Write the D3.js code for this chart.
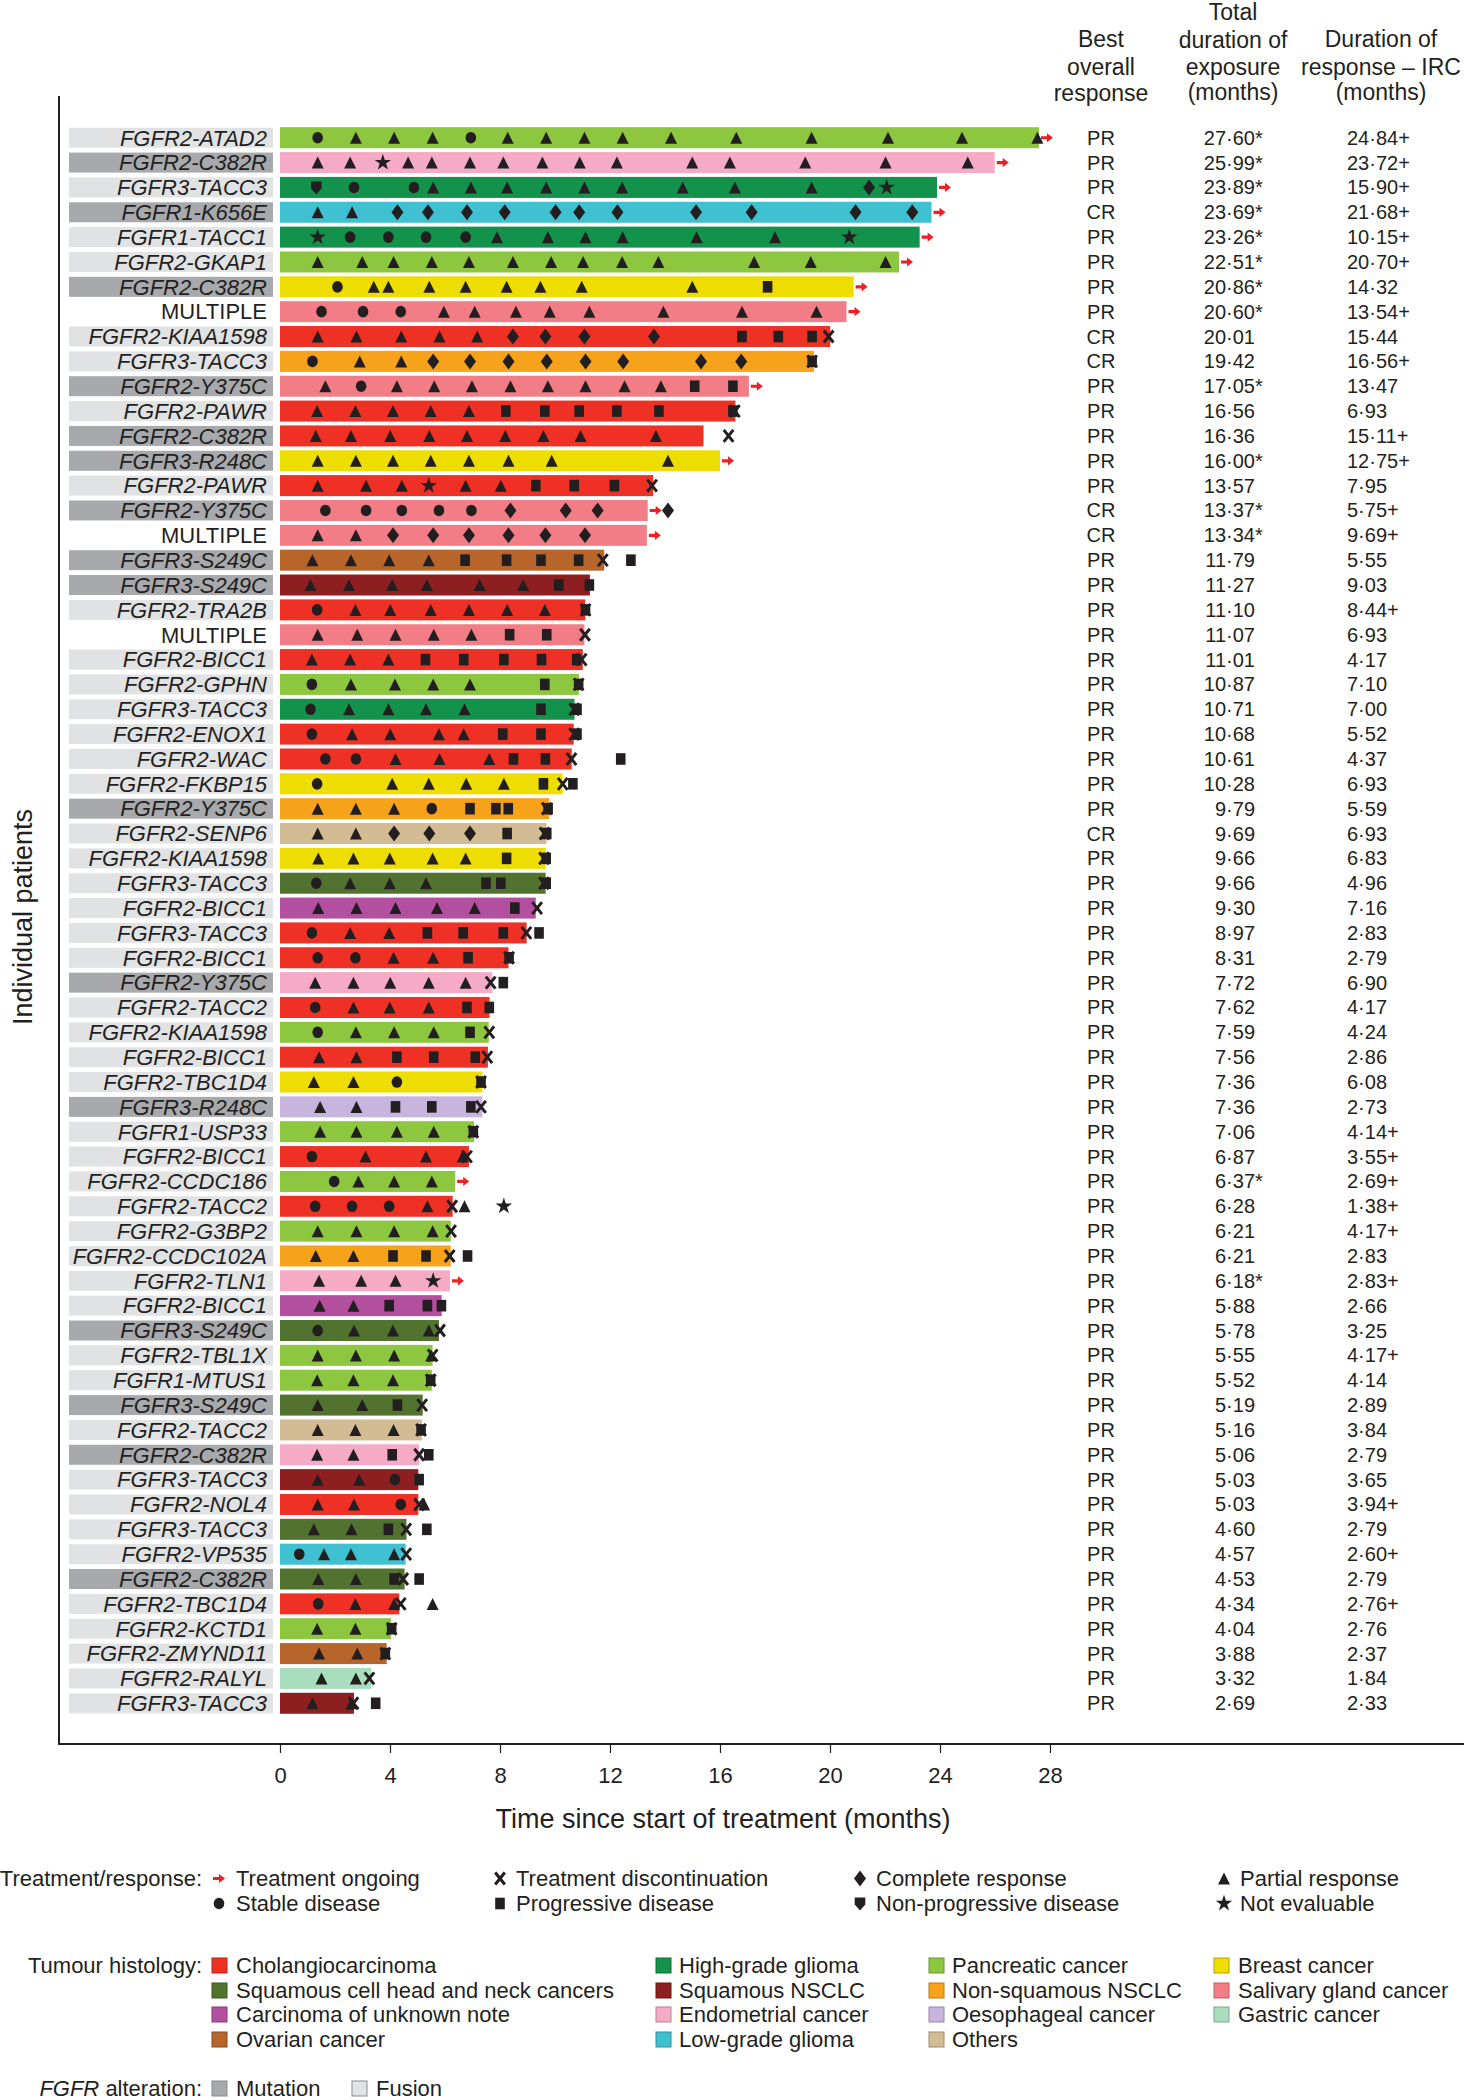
<!DOCTYPE html>
<html><head><meta charset="utf-8">
<script src="https://cdn.jsdelivr.net/npm/d3@7"></script>
<style>
body{margin:0;background:#fff}
svg{display:block;font-family:"Liberation Sans",Arial,Helvetica,sans-serif}
</style>
</head><body>
<svg id="chart" width="1464" height="2100"></svg>
<script>
// ---------------- DATA ----------------
const labels = ["FGFR2-ATAD2","FGFR2-C382R","FGFR3-TACC3","FGFR1-K656E","FGFR1-TACC1","FGFR2-GKAP1","FGFR2-C382R","MULTIPLE","FGFR2-KIAA1598","FGFR3-TACC3","FGFR2-Y375C","FGFR2-PAWR","FGFR2-C382R","FGFR3-R248C","FGFR2-PAWR","FGFR2-Y375C","MULTIPLE","FGFR3-S249C","FGFR3-S249C","FGFR2-TRA2B","MULTIPLE","FGFR2-BICC1","FGFR2-GPHN","FGFR3-TACC3","FGFR2-ENOX1","FGFR2-WAC","FGFR2-FKBP15","FGFR2-Y375C","FGFR2-SENP6","FGFR2-KIAA1598","FGFR3-TACC3","FGFR2-BICC1","FGFR3-TACC3","FGFR2-BICC1","FGFR2-Y375C","FGFR2-TACC2","FGFR2-KIAA1598","FGFR2-BICC1","FGFR2-TBC1D4","FGFR3-R248C","FGFR1-USP33","FGFR2-BICC1","FGFR2-CCDC186","FGFR2-TACC2","FGFR2-G3BP2","FGFR2-CCDC102A","FGFR2-TLN1","FGFR2-BICC1","FGFR3-S249C","FGFR2-TBL1X","FGFR1-MTUS1","FGFR3-S249C","FGFR2-TACC2","FGFR2-C382R","FGFR3-TACC3","FGFR2-NOL4","FGFR3-TACC3","FGFR2-VP535","FGFR2-C382R","FGFR2-TBC1D4","FGFR2-KCTD1","FGFR2-ZMYND11","FGFR2-RALYL","FGFR3-TACC3"];

// F = fusion, M = mutation, N = multiple (no box)
const alteration = ["F","M","F","M","F","F","M","N","F","F","M","F","M","M","F","M","N","M","M","F","N","F","F","F","F","F","F","M","F","F","F","F","F","F","M","F","F","F","F","M","F","F","F","F","F","F","F","F","M","F","F","M","F","M","F","F","F","F","M","F","F","F","F","F"];

const histology = ["PANC","ENDO","HGG","LGG","HGG","PANC","BRE","SAL","CHOL","NSQ","SAL","CHOL","CHOL","BRE","CHOL","SAL","SAL","OVA","SQ","CHOL","SAL","CHOL","PANC","HGG","CHOL","CHOL","BRE","NSQ","OTH","BRE","SCCHN","CUP","CHOL","CHOL","ENDO","CHOL","PANC","CHOL","BRE","OES","PANC","CHOL","PANC","CHOL","PANC","NSQ","ENDO","CUP","SCCHN","PANC","PANC","SCCHN","OTH","ENDO","SQ","CHOL","SCCHN","LGG","SCCHN","CHOL","PANC","OVA","GAS","SQ"];

const bestResponse = ["PR","PR","PR","CR","PR","PR","PR","PR","CR","CR","PR","PR","PR","PR","PR","CR","CR","PR","PR","PR","PR","PR","PR","PR","PR","PR","PR","PR","CR","PR","PR","PR","PR","PR","PR","PR","PR","PR","PR","PR","PR","PR","PR","PR","PR","PR","PR","PR","PR","PR","PR","PR","PR","PR","PR","PR","PR","PR","PR","PR","PR","PR","PR","PR"];

const exposure = ["27·60*","25·99*","23·89*","23·69*","23·26*","22·51*","20·86*","20·60*","20·01","19·42","17·05*","16·56","16·36","16·00*","13·57","13·37*","13·34*","11·79","11·27","11·10","11·07","11·01","10·87","10·71","10·68","10·61","10·28","9·79","9·69","9·66","9·66","9·30","8·97","8·31","7·72","7·62","7·59","7·56","7·36","7·36","7·06","6·87","6·37*","6·28","6·21","6·21","6·18*","5·88","5·78","5·55","5·52","5·19","5·16","5·06","5·03","5·03","4·60","4·57","4·53","4·34","4·04","3·88","3·32","2·69"];

const durationOfResponse = ["24·84+","23·72+","15·90+","21·68+","10·15+","20·70+","14·32","13·54+","15·44","16·56+","13·47","6·93","15·11+","12·75+","7·95","5·75+","9·69+","5·55","9·03","8·44+","6·93","4·17","7·10","7·00","5·52","4·37","6·93","5·59","6·93","6·83","4·96","7·16","2·83","2·79","6·90","4·17","4·24","2·86","6·08","2·73","4·14+","3·55+","2·69+","1·38+","4·17+","2·83","2·83+","2·66","3·25","4·17+","4·14","2·89","3·84","2·79","3·65","3·94+","2·79","2·60+","2·79","2·76+","2·76","2·37","1·84","2·33"];

// bar length (months) as drawn
const barMonths = [27.60,25.99,23.89,23.69,23.26,22.51,20.86,20.60,20.01,19.42,17.05,16.56,15.40,16.00,13.57,13.37,13.34,11.79,11.27,11.10,11.07,11.01,10.87,10.71,10.68,10.61,10.28,9.79,9.69,9.66,9.66,9.30,8.97,8.31,7.72,7.62,7.59,7.56,7.36,7.36,7.06,6.87,6.37,6.28,6.21,6.21,6.18,5.88,5.78,5.55,5.52,5.19,5.16,5.06,5.03,5.03,4.60,4.57,4.53,4.34,4.04,3.88,3.32,2.69];

// events: T partial response, C stable disease, S progressive disease, D complete response,
// X discontinuation, N non-progressive disease, V not evaluable ; number = month
const events = [
"C1.37 T2.76 T4.15 T5.55 C6.94 T8.28 T9.68 T11.07 T12.46 T14.22 T16.59 T19.33 T22.11 T24.80 T27.54",
"T1.37 T2.55 V3.74 T4.66 T5.52 T6.91 T8.12 T9.54 T10.90 T12.25 T14.99 T16.36 T19.10 T22.02 T25.01",
"N1.32 C2.69 C4.87 T5.57 T6.94 T8.26 T9.68 T11.07 T12.44 T14.64 T16.54 T19.33 D21.42 V22.06",
"T1.37 T2.62 D4.27 D5.38 D6.80 D8.17 D10.02 D10.88 D12.27 D15.13 D17.15 D20.93 D22.99",
"V1.37 C2.55 C3.94 C5.31 C6.75 T7.89 T9.74 T11.11 T12.46 T15.15 T18.00 V20.70",
"T1.37 T2.99 T4.13 T5.52 T6.87 T8.47 T9.86 T11.02 T12.44 T13.76 T17.24 T19.30 T22.02",
"C2.09 T3.41 T3.94 T5.43 T6.75 T8.24 T9.47 T10.97 T14.99 S17.73",
"C1.51 C3.02 C4.39 T5.96 T7.08 T8.58 T9.81 T11.25 T13.94 T16.80 T19.51",
"T1.37 T2.78 T4.41 T5.80 T7.17 D8.47 D9.65 D11.07 D13.60 S16.80 S18.12 S19.35 X19.95",
"C1.18 T2.90 T4.41 D5.57 D6.91 D8.31 D9.70 D11.11 D12.48 D15.31 D16.77 S19.35 X19.35",
"T1.65 C2.95 T4.25 T5.61 T6.98 T8.38 T9.74 T11.11 T12.53 T13.85 S15.08 S16.47",
"T1.35 T2.74 T4.11 T5.48 T6.87 S8.21 S9.63 S10.88 S12.25 S13.78 S16.47 X16.54",
"T1.30 T2.58 T4.01 T5.43 T6.80 T8.19 T9.58 T10.93 T13.67 X16.31",
"T1.37 T2.76 T4.11 T5.48 T6.87 T8.31 T9.88 T14.11",
"T1.37 T3.13 T4.43 V5.41 T6.75 T8.03 S9.30 S10.70 S12.16 X13.53",
"C1.65 C3.13 C4.43 C5.78 C6.96 D8.38 D10.39 D11.55 D14.11",
"T1.37 T2.76 D4.11 D5.57 D6.87 D8.31 D9.65 D11.09",
"T1.18 T2.58 T3.97 T5.41 S6.73 S8.24 S9.49 S10.86 X11.74 S12.76",
"T1.11 T2.51 T4.08 T5.34 T7.26 T8.84 S10.14 S11.25",
"C1.35 T2.74 T4.01 T5.48 T6.87 T8.26 T9.63 S11.11 X11.11",
"T1.37 T2.81 T4.20 T5.59 T6.96 S8.35 S9.70 X11.09",
"T1.16 T2.55 T3.94 S5.29 S6.68 S8.14 S9.51 S10.79 X10.97",
"C1.16 T2.58 T4.18 T5.57 T6.91 S9.63 S10.86 X10.86",
"C1.11 T2.51 T3.94 T5.31 T6.71 S9.49 S10.80 X10.70",
"C1.16 T2.62 T4.01 T5.78 T6.68 S8.10 S9.49 S10.80 X10.70",
"C1.65 C2.76 T4.20 T5.80 T7.61 S8.49 S9.65 X10.60 S12.39",
"C1.35 T4.08 T5.41 T6.77 T8.14 S9.58 X10.28 S10.65",
"T1.37 T2.76 T4.15 C5.52 S6.91 S7.85 S8.30 S9.75 X9.70",
"T1.37 T2.76 D4.15 D5.43 D6.91 S8.26 S9.70 X9.62",
"T1.39 T2.67 T3.99 T5.55 T6.75 S8.24 S9.68 X9.60",
"C1.32 T2.55 T3.99 T5.31 S7.49 S8.03 S9.68 X9.60",
"T1.39 T2.78 T4.20 T5.71 T7.08 S8.54 X9.35",
"C1.16 T2.55 T3.97 S5.36 S6.66 S8.12 X8.96 S9.42",
"C1.37 C2.74 T4.13 T5.57 S6.84 S8.33 X8.33",
"T1.28 T2.67 T4.01 T5.41 T6.75 X7.66 S8.12",
"C1.28 T2.67 T3.99 T5.41 S6.80 S7.61",
"C1.37 T2.76 T4.15 T5.59 S6.91 X7.61",
"T1.42 T2.78 S4.25 S5.59 S7.10 X7.54",
"T1.23 T2.67 C4.25 S7.31 X7.31",
"T1.46 T2.78 S4.20 S5.52 S6.94 X7.31",
"T1.46 T2.78 T4.25 T5.59 S7.03 X7.03",
"C1.16 T3.11 T5.31 T6.64 X6.80",
"C1.97 T2.85 T4.15 T5.52",
"C1.28 C2.62 C3.97 T5.36 X6.26 T6.71 V8.14",
"T1.37 T2.78 T4.15 T5.55 X6.22",
"T1.30 T2.67 S4.11 S5.31 X6.17 S6.82",
"T1.42 T2.95 T4.20 V5.57",
"T1.44 T2.67 S3.97 S5.36 S5.87",
"C1.37 T2.69 T4.11 T5.41 X5.82",
"T1.37 T2.76 T4.15 T5.50 X5.55",
"T1.35 T2.67 T4.11 S5.48 X5.48",
"T1.37 T2.99 S4.27 X5.17",
"T1.37 T2.74 T4.13 S5.13 X5.13",
"T1.35 T2.67 S4.08 X5.06 S5.41",
"T1.37 T2.88 C4.18 S5.06",
"T1.37 T2.69 C4.39 X5.06 T5.24",
"T1.23 T2.60 S3.94 X4.59 S5.34",
"C0.70 T1.60 T2.58 T4.15 X4.59",
"T1.39 T2.76 S4.15 X4.48 S5.06",
"C1.39 T2.74 T4.15 X4.39 T5.55",
"T1.35 T2.74 S4.06 X4.06",
"T1.42 T2.81 S3.83 X3.83",
"T1.51 T2.76 X3.25",
"T1.18 T2.60 X2.67 S3.48"
];

const xTicks = [0,4,8,12,16,20,24,28];

const histologyKeys = ["CHOL","SCCHN","CUP","OVA","HGG","SQ","ENDO","LGG","PANC","NSQ","OES","OTH","BRE","SAL","GAS"];
const histologyNames = ["Cholangiocarcinoma","Squamous cell head and neck cancers","Carcinoma of unknown note","Ovarian cancer","High-grade glioma","Squamous NSCLC","Endometrial cancer","Low-grade glioma","Pancreatic cancer","Non-squamous NSCLC","Oesophageal cancer","Others","Breast cancer","Salivary gland cancer","Gastric cancer"];
const histologyColors = ["#ee3124","#52722f","#b24f9f","#b8652b","#12924a","#8e1f20","#f5abc6","#3fc1d1","#8dc63f","#f7a21b","#c7b5dd","#d3bb93","#eedd00","#f37d86","#a8ddbd"];

const responseLegend = [["O","Treatment ongoing"],["C","Stable disease"],["X","Treatment discontinuation"],["S","Progressive disease"],["D","Complete response"],["N","Non-progressive disease"],["T","Partial response"],["V","Not evaluable"]];

// ---------------- DRAW ----------------
const INK = "#231f20", RED = "#ed2024";
const svg = d3.select("#chart");
const n = labels.length;
const color = d3.scaleOrdinal().domain(histologyKeys).range(histologyColors);
const x = d3.scaleLinear().domain([0, 28]).range([280, 1050]);
const y = d3.scaleBand().domain(d3.range(n)).range([125.3, 125.3 + 24.85 * n]).padding(0);
const cy = i => y(i) + y.bandwidth() / 2;

function shapePath(t) {
  switch (t) {
    case "T": return "M0,-6L6,6L-6,6Z";
    case "C": return "M-5.3,0A5.3,5.8 0 1,0 5.3,0A5.3,5.8 0 1,0 -5.3,0Z";
    case "S": return "M-4.8,-5.8H4.8V5.8H-4.8Z";
    case "D": return "M0,-8L6,0L0,8L-6,0Z";
    case "N": return "M-5.3,-6H5.3V1L0,7L-5.3,1Z";
    case "V": return d3.symbol(d3.symbolStar, 85)();
    case "X": return "M-4.8,-6L4.8,6M4.8,-6L-4.8,6";
    case "O": return "M-6,-1.6H0V-4.6L6,0L0,4.6V1.6H-6Z";
  }
}
function drawShape(g, t, px, py) {
  const p = g.append("path").attr("d", shapePath(t)).attr("transform", `translate(${px},${py})`);
  if (t === "X") p.attr("fill", "none").attr("stroke", INK).attr("stroke-width", 3);
  else if (t === "O") p.attr("fill", RED);
  else p.attr("fill", INK);
  return p;
}

// axes lines
svg.append("line").attr("x1", 59).attr("x2", 59).attr("y1", 96).attr("y2", 1744).attr("stroke", INK).attr("stroke-width", 2);
svg.append("line").attr("x1", 58).attr("x2", 1464).attr("y1", 1744).attr("y2", 1744).attr("stroke", INK).attr("stroke-width", 2);

const xAxis = svg.append("g").attr("transform", "translate(0,1744)")
  .call(d3.axisBottom(x).tickValues(xTicks).tickSize(9).tickPadding(14).tickFormat(d3.format("d")));
xAxis.select(".domain").remove();
xAxis.selectAll("line").attr("stroke", INK).attr("stroke-width", 1.2);
xAxis.selectAll("text").attr("font-size", 22).attr("fill", INK).attr("font-family", "Liberation Sans, Arial, sans-serif");

svg.append("text").attr("x", 723).attr("y", 1828).attr("text-anchor", "middle").attr("font-size", 27).attr("fill", INK)
  .text("Time since start of treatment (months)");
svg.append("text").attr("transform", "translate(32,917) rotate(-90)").attr("text-anchor", "middle").attr("font-size", 27).attr("fill", INK)
  .text("Individual patients");

// rows
const rows = svg.append("g");
d3.range(n).forEach(i => {
  const g = rows.append("g");
  const c = cy(i);
  if (alteration[i] !== "N") {
    g.append("rect").attr("x", 69).attr("y", c - 10).attr("width", 204).attr("height", 20)
      .attr("fill", alteration[i] === "M" ? "#a7a9ac" : "#e1e2e3");
  }
  g.append("text").attr("x", 267).attr("y", c + 7.8).attr("text-anchor", "end").attr("font-size", 22)
    .attr("font-style", alteration[i] === "N" ? "normal" : "italic").attr("fill", INK).text(labels[i]);
  g.append("rect").attr("x", x(0)).attr("y", c - 10.5).attr("width", x(barMonths[i]) - x(0)).attr("height", 21)
    .attr("fill", color(histology[i]));
  if (exposure[i].includes("*")) drawShape(g, "O", x(barMonths[i]) + 8, c);
  events[i].split(" ").forEach(e => drawShape(g, e[0], x(+e.slice(1)), c));
  // table
  g.append("text").attr("x", 1101).attr("y", c + 7).attr("text-anchor", "middle").attr("font-size", 20).attr("fill", INK).text(bestResponse[i]);
  const num = exposure[i].replace("*", "");
  g.append("text").attr("x", 1255).attr("y", c + 7).attr("text-anchor", "end").attr("font-size", 20).attr("fill", INK).text(num);
  if (exposure[i].includes("*"))
    g.append("text").attr("x", 1255).attr("y", c + 7).attr("font-size", 20).attr("fill", INK).text("*");
  g.append("text").attr("x", 1347).attr("y", c + 7).attr("font-size", 20).attr("fill", INK).text(durationOfResponse[i]);
});

// header
const hdr = [[1101, [[47, "Best"], [75, "overall"], [101, "response"]]],
             [1233, [[20, "Total"], [48, "duration of"], [75, "exposure"], [100, "(months)"]]],
             [1381, [[47, "Duration of"], [75, "response – IRC"], [100, "(months)"]]]];
hdr.forEach(([hx, lines]) => lines.forEach(([hy, t]) =>
  svg.append("text").attr("x", hx).attr("y", hy).attr("text-anchor", "middle").attr("font-size", 23).attr("fill", INK).text(t)));

// legend: treatment / response
const lg = svg.append("g").attr("fill", INK).attr("font-size", 22);
lg.append("text").attr("x", 202).attr("y", 1886).attr("text-anchor", "end").text("Treatment/response:");
const colSym = [219, 500, 860, 1224], colTxt = [236, 516, 876, 1240];
responseLegend.forEach(([t, name], k) => {
  const col = Math.floor(k / 2), row = k % 2;
  const by = 1886 + row * 25;
  drawShape(lg, t, colSym[col], by - 7.5);
  lg.append("text").attr("x", colTxt[col]).attr("y", by).text(name);
});

// legend: histology
lg.append("text").attr("x", 202).attr("y", 1973).attr("text-anchor", "end").text("Tumour histology:");
const hSw = [212, 656, 929, 1214], hTx = [236, 679, 952, 1238];
const hRows = [1973, 1998, 2022, 2047];
histologyKeys.forEach((k, idx) => {
  const col = Math.floor(idx / 4), row = idx % 4;
  lg.append("rect").attr("x", hSw[col]).attr("y", hRows[row] - 15).attr("width", 15).attr("height", 15)
    .attr("fill", color(k)).attr("stroke", d3.color(color(k)).darker(0.8)).attr("stroke-width", 1);
  lg.append("text").attr("x", hTx[col]).attr("y", hRows[row]).text(histologyNames[idx]);
});

// legend: alteration
const at = lg.append("text").attr("x", 202).attr("y", 2096).attr("text-anchor", "end");
at.append("tspan").attr("font-style", "italic").text("FGFR");
at.append("tspan").text(" alteration:");
[["#a7a9ac", "Mutation", 212, 236], ["#e1e2e3", "Fusion", 352, 376]].forEach(([f, t, sx, tx]) => {
  lg.append("rect").attr("x", sx).attr("y", 2081).attr("width", 15).attr("height", 15).attr("fill", f).attr("stroke", "#8a8c8e");
  lg.append("text").attr("x", tx).attr("y", 2096).text(t);
});
</script>
</body></html>
